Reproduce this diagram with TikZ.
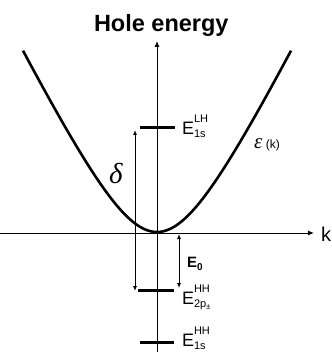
\documentclass[tikz,border=0pt]{standalone}
\usepackage{fontspec}
\setmainfont{Liberation Sans}
\newfontfamily\serifit{Liberation Serif}
\usetikzlibrary{arrows.meta}
\newcommand{\lev}[2]{\fontsize{18}{18}\selectfont E\rlap{\raisebox{12pt}{\fontsize{11}{11}\selectfont #1}}\raisebox{-3pt}{\fontsize{11}{11}\selectfont #2}}
\tikzset{
  axis/.style={line width=1pt,-{Latex[length=6pt,width=5pt]}},
  curve/.style={line width=2.6pt},
  bar/.style={line width=3pt},
  dbl/.style={line width=0.9pt,{Latex[length=5pt,width=4pt]}-{Latex[length=5pt,width=4pt]}},
  lbl/.style={anchor=base west,inner sep=0pt,outer sep=0pt},
}
\begin{document}
\begin{tikzpicture}[x=1pt,y=-1pt]
\useasboundingbox (0,0) rectangle (331,352);
% axes
\coordinate (xl) at (0,233);
\coordinate (xr) at (314,233);
\coordinate (yb) at (157,352);
\coordinate (yt) at (157,41);
\draw[axis] (xl) -- (xr);
\draw[axis] (yb) -- (yt);
% dispersion
\draw[curve] plot[domain=-134:134,samples=150] ({157+\x},{232-111*(sqrt(1+(\x/55)^2)-1)});
% levels
\coordinate (lha) at (140,128); \coordinate (lhb) at (175,128);
\coordinate (hpa) at (138,290); \coordinate (hpb) at (174,290);
\coordinate (hsa) at (140,342); \coordinate (hsb) at (174,342);
\draw[bar] (lha) -- (lhb);
\draw[bar] (hpa) -- (hpb);
\draw[bar] (hsa) -- (hsb);
% arrows
\coordinate (dtop) at (135,130); \coordinate (dbot) at (135,291);
\draw[dbl] (dtop) -- (dbot);
\coordinate (etop) at (179,234); \coordinate (ebot) at (179,288);
\draw[dbl] (etop) -- (ebot);
% labels
\node[lbl] (title) at (94,32) {\fontsize{23.5}{23.5}\selectfont\bfseries Hole energy};
\node[lbl] (Elh) at (182,135) {\lev{LH}{1s}};
\node[lbl] (Ehp) at (182,304) {\lev{HH}{2p\raisebox{-2pt}{\fontsize{8}{8}\selectfont ±}}};
\node[lbl] (Ehs) at (182,346) {\lev{HH}{1s}};
\node[lbl] (E0) at (187,267) {\fontsize{15}{15}\selectfont\bfseries E\raisebox{-3pt}{\fontsize{10}{10}\selectfont 0}};
\node[lbl] (eps) at (254,149) {\fontsize{21}{21}\selectfont\serifit\itshape ε\,\fontsize{12}{12}\selectfont\normalfont(k)};
\node[lbl] (delta) at (109,183) {\fontsize{29}{29}\selectfont\serifit\itshape δ};
\node[lbl] (kk) at (321,241) {\fontsize{20}{20}\selectfont k};
\end{tikzpicture}
\end{document}
